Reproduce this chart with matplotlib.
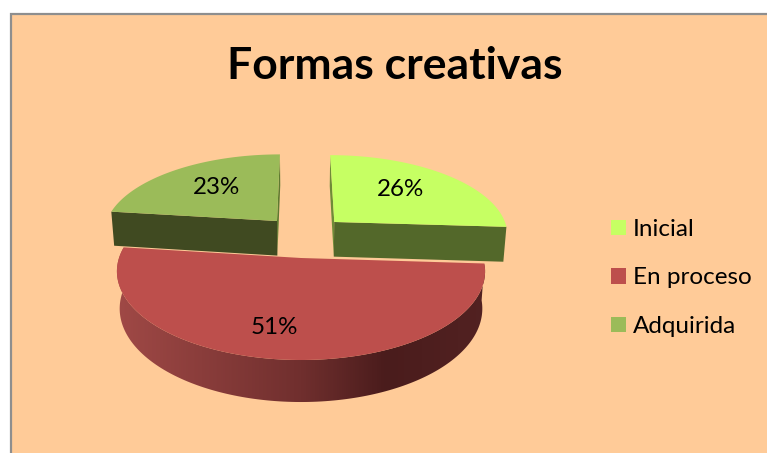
import numpy as np
import matplotlib
matplotlib.use("Agg")
import matplotlib.pyplot as plt
from matplotlib.colors import LinearSegmentedColormap
from matplotlib.patches import Polygon, Patch, Rectangle

# Chart content
title = "Formas creativas"
categories = ["Inicial", "En proceso", "Adquirida"]
percentages = [26, 51, 23]

# Styling
top_colors = ["#C6FF63", "#BD4F4C", "#9BBB59"]
wall_colors = ["#53682A", None, "#404A21"]
edge_wall_colors = ["#6F8B38", None, "#5E7A30"]
panel_color = "#FFCB98"
plt.rcParams["font.family"] = ["Lato", "DejaVu Sans"]

W, H = 767, 453
fig = plt.figure(figsize=(W / 100, H / 100), dpi=100, facecolor="white")
ax = fig.add_axes([0, 0, 1, 1])

# Perspective camera for the tilted disc, in pixel space
CX, CY = 301.0, 258.0
RX, RY = 182.0, 86.7
PERSP = 0.15
DEPTH = 36.6
SHRINK = 0.985

# Displacement of each slice on the disc plane
explode = [(0.195, 0.443), (0.0, 0.0), (-0.141, 0.456)]


def project(a, b, lower=False):
    a, b = np.asarray(a, float), np.asarray(b, float)
    s = 1.0 / (1.0 + PERSP * b)
    x = RX * a * s
    y = CY - RY * b * s
    if lower:
        return CX + x * SHRINK, y + DEPTH * s ** 0.85
    return CX + x, y


def slice_outline(start, end, offset, lower=False):
    theta = np.radians(np.linspace(start, end, 160))
    a = np.concatenate([[0.0], np.sin(theta)]) + offset[0]
    b = np.concatenate([[0.0], np.cos(theta)]) + offset[1]
    x, y = project(a, b, lower)
    return np.column_stack([x, y])


def quad(p, q, offset):
    """Vertical wall under the disc edge running between disc points p and q."""
    a = np.array([p[0], q[0]]) + offset[0]
    b = np.array([p[1], q[1]]) + offset[1]
    xt, yt = project(a, b)
    xb, yb = project(a, b, lower=True)
    return np.column_stack([np.r_[xt, xb[::-1]], np.r_[yt, yb[::-1]]])


# Chart panel, running past the right and bottom edges
ax.add_patch(Rectangle((11, 13.5), W + 20, H + 20, facecolor=panel_color,
                       edgecolor="#8E8E8E", linewidth=1.6, zorder=0))

# Cumulative slice angles, clockwise from twelve o'clock
edges = np.concatenate([[0.0], np.cumsum(percentages)]) * 3.6

# En proceso: shaded outer wall first, then its top
i = 1
start, end = edges[i], edges[i + 1]
upper = slice_outline(start, end, explode[i])[1:]
lower = slice_outline(start, end, explode[i], lower=True)[1:]
wall_poly = Polygon(np.vstack([upper, lower[::-1]]), closed=True,
                    facecolor="none", edgecolor="none", zorder=1)
ax.add_patch(wall_poly)
shade = LinearSegmentedColormap.from_list(
    "wall", [(0.0, "#A24A47"), (0.5, "#702F2E"), (0.72, "#4A1C1C"), (1.0, "#532222")])
span = (upper[:, 0].min() - 8, upper[:, 0].max() + 8)
img = ax.imshow(np.linspace(0, 1, 256)[None, :], cmap=shade, aspect="auto",
                extent=(span[0], span[1], H, 0), zorder=1)
img.set_clip_path(wall_poly)
ax.add_patch(Polygon(slice_outline(start, end, explode[i]), closed=True,
                     facecolor=top_colors[i], edgecolor="none", zorder=2))

# Adquirida and Inicial slabs sit behind and above the big slice
for i, far_edge, near_edge in [(2, edges[3], edges[2]), (0, edges[0], edges[1])]:
    offset = explode[i]
    far = (np.sin(np.radians(far_edge)), np.cos(np.radians(far_edge)))
    near = (np.sin(np.radians(near_edge)), np.cos(np.radians(near_edge)))
    ax.add_patch(Polygon(quad((0, 0), far, offset), closed=True,
                         facecolor=edge_wall_colors[i], edgecolor="none", zorder=3))
    ax.add_patch(Polygon(quad((0, 0), near, offset), closed=True,
                         facecolor=wall_colors[i], edgecolor="none", zorder=4))
    ax.add_patch(Polygon(slice_outline(edges[i], edges[i + 1], offset), closed=True,
                         facecolor=top_colors[i], edgecolor="none", zorder=5))

# Percentage labels
label_xy = [(400, 189), (274, 327), (216, 187)]
for value, (lx, ly) in zip(percentages, label_xy):
    ax.text(lx, ly, f"{value}%", ha="center", va="center", fontsize=17.4,
            color="black", zorder=6)

ax.text(395, 66, title, ha="center", va="center", fontsize=32, fontweight="bold",
        color="black", zorder=6)

handles = [Patch(facecolor=c, edgecolor="none") for c in top_colors]
ax.legend(handles, categories, loc="center left", bbox_to_anchor=(603.7 / W, 1 - 278 / H),
          bbox_transform=fig.transFigure, frameon=False, fontsize=17.5,
          handlelength=0.62, handleheight=0.62, handletextpad=0.29, labelspacing=1.13,
          borderaxespad=0, borderpad=0.3, labelcolor="black")

ax.set_xlim(0, W)
ax.set_ylim(H, 0)
ax.axis("off")
fig.savefig("out.png", dpi=100, facecolor="white")
